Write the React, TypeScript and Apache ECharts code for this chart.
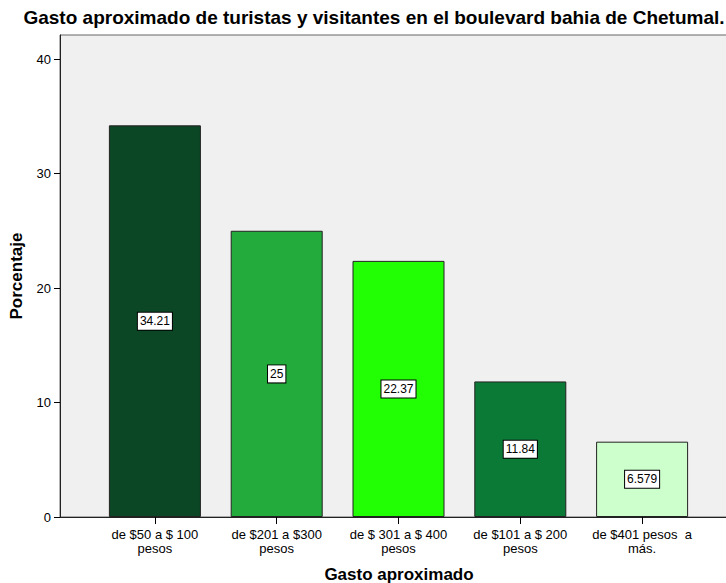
import React, { useEffect, useRef } from "react";
import * as echarts from "echarts";

const categories = [
  "de $50 a $ 100\npesos",
  "de $201 a $300\npesos",
  "de $ 301 a $ 400\npesos",
  "de $101 a $ 200\npesos",
  "de $401 pesos  a\nmás.",
];
const values = [34.21, 25, 22.37, 11.84, 6.579];
const valueLabels = ["34.21", "25", "22.37", "11.84", "6.579"];
const barColors = ["#0b4725", "#23ab3b", "#22ff05", "#0c7a37", "#ccffcc"];
const yTicks = [0, 10, 20, 30, 40];

const FONT = "'Liberation Sans', Arial, sans-serif";

export default function App() {
  const ref = useRef<HTMLDivElement>(null);
  useEffect(() => {
    document.body.style.margin = "0";
    const chart = echarts.init(ref.current!, undefined, { renderer: "svg" });
    const top = 35;
    const bottom = 66;
    const yMax = 42.1;
    chart.setOption({
      animation: false,
      backgroundColor: "#ffffff",
      title: {
        text: "Gasto aproximado de turistas y visitantes en el boulevard bahia de Chetumal.",
        left: 369,
        textAlign: "center",
        top: 3,
        textStyle: { fontFamily: FONT, fontSize: 19, fontWeight: "bold", color: "#000" },
      },
      grid: [
        { left: 94, right: 23, top, bottom, show: false, outerBoundsMode: "none", containLabel: false },
        {
          left: 60,
          right: -12,
          top,
          bottom,
          show: true,
          backgroundColor: "#f0f0f0",
          borderColor: "#666666",
          borderWidth: 1,
          z: 0,
          outerBoundsMode: "none",
          containLabel: false,
        },
      ],
      xAxis: [
        {
          type: "category",
          gridIndex: 0,
          data: categories,
          axisLine: { show: false },
          axisTick: { show: true, alignWithLabel: true, length: 7, lineStyle: { color: "#000", width: 1 } },
          axisLabel: {
            margin: 10,
            fontFamily: FONT,
            fontSize: 13,
            lineHeight: 14,
            color: "#000",
            interval: 0,
          },
          z: 5,
        },
        {
          type: "value",
          gridIndex: 1,
          min: 0,
          max: 1,
          axisLine: { show: true, lineStyle: { color: "#222", width: 1 } },
          axisTick: { show: false },
          axisLabel: { show: false },
          splitLine: { show: false },
          name: "Gasto aproximado",
          nameLocation: "middle",
          nameGap: 49,
          nameTextStyle: { fontFamily: FONT, fontSize: 17, fontWeight: "bold", color: "#000" },
          z: 4,
        },
      ],
      yAxis: [
        {
          type: "value",
          gridIndex: 0,
          min: 0,
          max: yMax,
          show: false,
          splitLine: { show: false },
        },
        {
          type: "value",
          gridIndex: 1,
          min: 0,
          max: yMax,
          axisLine: { show: true, lineStyle: { color: "#222", width: 1 } },
          axisTick: { show: true, length: 6, customValues: yTicks, lineStyle: { color: "#000" } },
          axisLabel: {
            customValues: yTicks,
            fontFamily: FONT,
            fontSize: 13,
            color: "#000",
            margin: 9,
          },
          splitLine: { show: false },
          name: "Porcentaje",
          nameLocation: "middle",
          nameGap: 35,
          nameTextStyle: { fontFamily: FONT, fontSize: 17, fontWeight: "bold", color: "#000" },
          z: 4,
        },
      ],
      series: [
        {
          type: "bar",
          xAxisIndex: 0,
          yAxisIndex: 0,
          barWidth: 92,
          z: 3,
          data: values.map((v, i) => ({
            value: v,
            itemStyle: { color: barColors[i], borderColor: "#222", borderWidth: 1 },
          })),
          label: {
            show: true,
            position: "inside",
            formatter: (p: any) => valueLabels[p.dataIndex],
            fontFamily: FONT,
            fontSize: 12,
            color: "#000",
            backgroundColor: "#ffffff",
            borderColor: "#000",
            borderWidth: 1,
            padding: [3, 2, 2, 2],
          },
        },
      ],
    });
    return () => chart.dispose();
  }, []);
  return <div ref={ref} style={{ width: 726, height: 583 }} />;
}
